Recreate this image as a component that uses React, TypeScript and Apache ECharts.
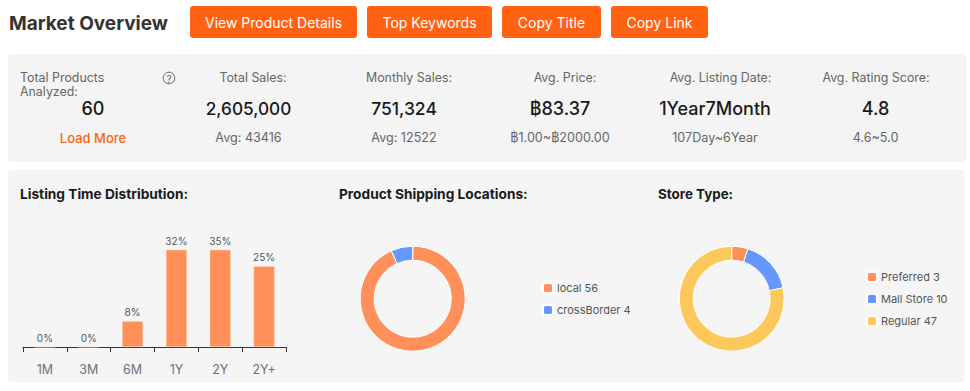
import React, { useEffect, useRef } from "react";
import * as echarts from "echarts";

const heading = "Market Overview";
const buttonLabels = ["View Product Details", "Top Keywords", "Copy Title", "Copy Link"];
const statLabels = ["Total Sales:", "Monthly Sales:", "Avg. Price:", "Avg. Listing Date:", "Avg. Rating Score:"];
const statValues = ["2,605,000", "751,324", "฿83.37", "1Year7Month", "4.8"];
const statSubs = ["Avg: 43416", "Avg: 12522", "฿1.00~฿2000.00", "107Day~6Year", "4.6~5.0"];
const sectionTitles = ["Listing Time Distribution:", "Product Shipping Locations:", "Store Type:"];
const listingCategories = ["1M", "3M", "6M", "1Y", "2Y", "2Y+"];
const listingPercents = [0, 0, 8, 32, 35, 25];
const shippingNames = ["local", "crossBorder"];
const shippingValues = [56, 4];
const storeNames = ["Preferred", "Mall Store", "Regular"];
const storeValues = [3, 10, 47];

const FONT = "Inter, 'Noto Sans', sans-serif";
const ORANGE = "#ff6212";
const C1 = "#ff9059";
const C2 = "#6597ff";
const C3 = "#fcc85c";

const t = (x: number, y: number, text: string, o: any = {}) => ({
  type: "text",
  x,
  y,
  style: {
    text,
    fontFamily: FONT,
    fontSize: o.size ?? 12.4,
    fontWeight: o.weight ?? 400,
    fill: o.fill ?? "#666666",
    textAlign: o.align ?? "center",
    textVerticalAlign: "middle",
  },
});

const rect = (x: number, y: number, width: number, height: number, fill: string, r: number) => ({
  type: "rect",
  shape: { x, y, width, height, r },
  style: { fill },
});

const buttonBoxes = [
  [190, 167],
  [367, 125],
  [502, 99],
  [611, 97],
];
const labelX = [253, 409, 565, 720.5, 876];
const valueX = [248.5, 404, 560, 715, 875.5];
const valueSizes = [17.2, 17.5, 18, 18, 18];

const pie = (name: string, names: string[], values: number[], cx: number, colors: string[]) => ({
  type: "pie",
  name,
  center: [cx, 298.7],
  radius: [38.5, 52.5],
  startAngle: 90,
  silent: true,
  color: colors,
  label: { show: false },
  labelLine: { show: false },
  itemStyle: { borderColor: "#ffffff", borderWidth: 1 },
  data: names.map((n, i) => ({ name: n, value: values[i] })),
});

const legend = (names: string[], values: number[], left: number, top: number) => ({
  orient: "vertical",
  left,
  top,
  data: names,
  icon: "roundRect",
  itemWidth: 10,
  itemHeight: 10,
  itemGap: 10,
  selectedMode: false,
  textStyle: { fontFamily: FONT, fontSize: 11, color: "#555555", padding: [0, 0, 0, -1] },
  formatter: (n: string) => `${n} ${values[names.indexOf(n)]}`,
});

export default function App() {
  const ref = useRef<HTMLDivElement>(null);
  useEffect(() => {
    const chart = echarts.init(ref.current!, undefined, { renderer: "svg" });
    chart.setOption({
      animation: false,
      backgroundColor: "#ffffff",
      graphic: [
        {
          type: "group",
          silent: true,
          children: [
            rect(8, 54, 958, 108, "#f4f4f4", 3),
            rect(8, 170, 957, 212, "#f5f5f5", 4),
            t(9, 23, heading, { size: 19, weight: 700, fill: "#333333", align: "left" }),
            ...buttonLabels.flatMap((b, i) => [
              rect(buttonBoxes[i][0], 6, buttonBoxes[i][1], 32, ORANGE, 3),
              t(buttonBoxes[i][0] + buttonBoxes[i][1] / 2, 22, b, { size: 14, fill: "#ffffff" }),
            ]),
            t(20, 77, "Total Products", { align: "left" }),
            t(20, 91.5, "Analyzed:", { align: "left" }),
            t(93, 108.5, "60", { size: 18, weight: 500, fill: "#1a1a1a" }),
            t(93, 137.5, "Load More", { size: 13, weight: 500, fill: ORANGE }),
            {
              type: "circle",
              shape: { cx: 169, cy: 78, r: 5.8 },
              style: { fill: "none", stroke: "#666666", lineWidth: 1 },
            },
            t(169, 78.5, "?", { size: 10 }),
            ...statLabels.map((s, i) => t(labelX[i], 77, s)),
            ...statValues.map((s, i) => t(valueX[i], 108, s, { size: valueSizes[i], weight: 500, fill: "#1a1a1a" })),
            ...statSubs.map((s, i) => t(valueX[i], 137.5, s, { size: 12.6 })),
            t(20, 194, sectionTitles[0], { size: 13.7, weight: 700, fill: "#1a1a1a", align: "left" }),
            t(339, 194, sectionTitles[1], { size: 13.7, weight: 700, fill: "#1a1a1a", align: "left" }),
            t(658, 194, sectionTitles[2], { size: 13.4, weight: 700, fill: "#1a1a1a", align: "left" }),
          ],
        },
      ],
      grid: { left: 23, width: 263, top: 250, height: 97 },
      xAxis: {
        type: "category",
        data: listingCategories,
        axisLine: { lineStyle: { color: "#333333" } },
        axisTick: { show: true, length: 5, lineStyle: { color: "#333333" } },
        axisLabel: { fontFamily: FONT, fontSize: 12.5, color: "#6e7079", margin: 16 },
      },
      yAxis: { type: "value", min: 0, max: 30, show: false, splitLine: { show: false } },
      legend: [legend(shippingNames, shippingValues, 537, 277), legend(storeNames, storeValues, 861, 266)],
      series: [
        {
          type: "bar",
          data: listingPercents,
          barWidth: 21,
          silent: true,
          itemStyle: { color: C1, borderColor: "#ffd9c5", borderWidth: 0.5 },
          label: {
            show: true,
            position: "top",
            formatter: "{c}%",
            fontFamily: FONT,
            fontSize: 10,
            color: "#555555",
            distance: 4,
          },
        },
        pie("Product Shipping Locations", shippingNames, shippingValues, 412.7, [C1, C2]),
        pie("Store Type", storeNames, storeValues, 731.7, [C1, C2, C3]),
      ],
    });
    return () => chart.dispose();
  }, []);
  return <div ref={ref} style={{ position: "fixed", left: 0, top: 0, width: 970, height: 391 }} />;
}
